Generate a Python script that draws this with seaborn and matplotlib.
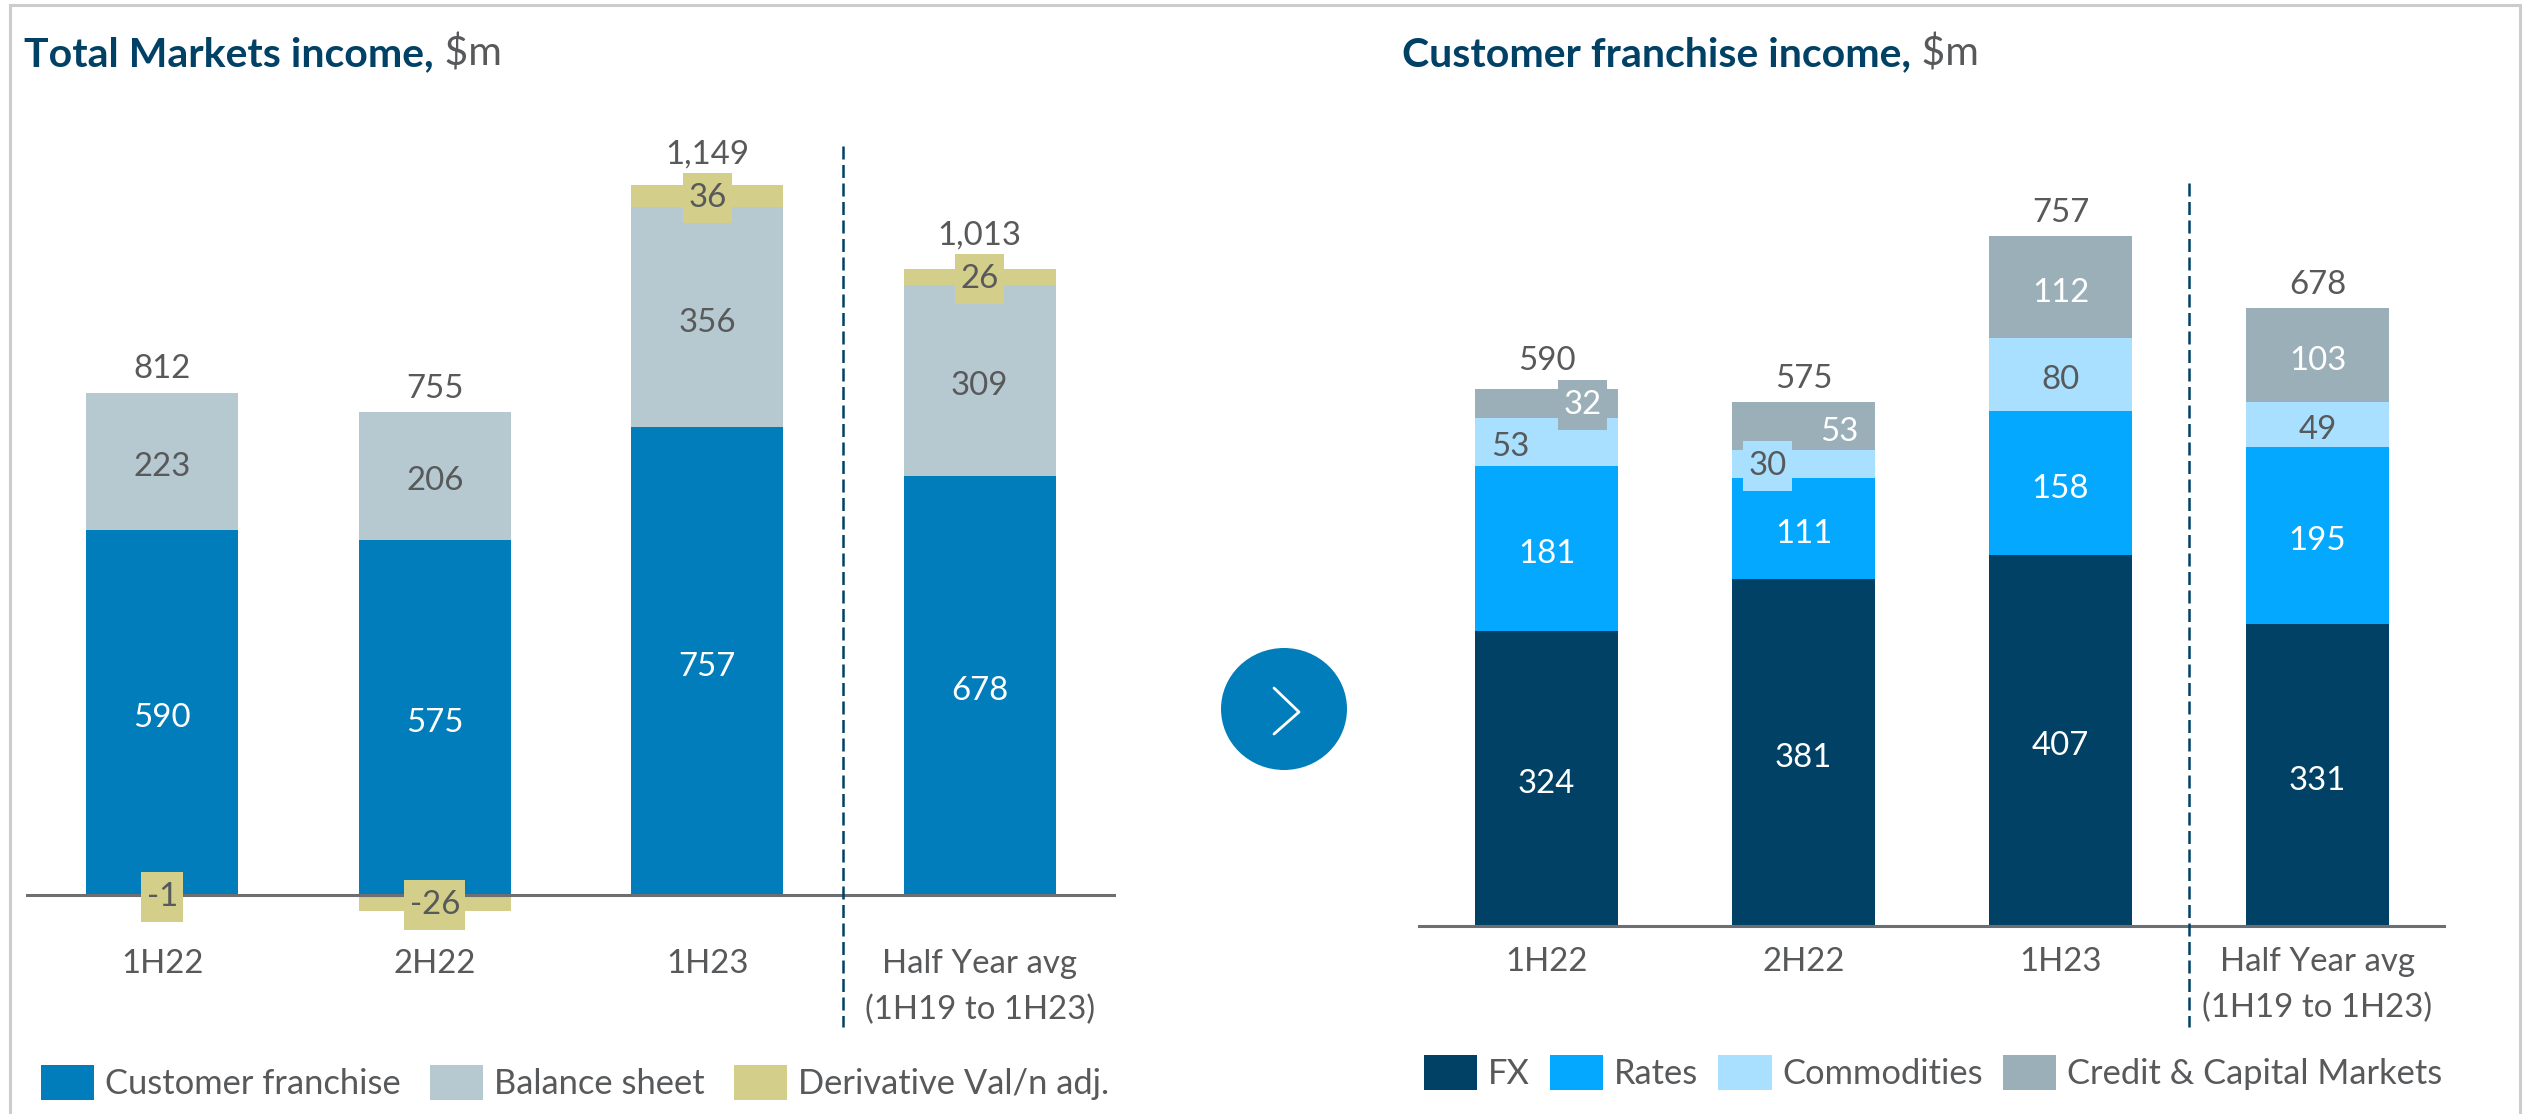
# Markets income charts: total income (left) and customer franchise split (right)
import numpy as np
import pandas as pd
import matplotlib
matplotlib.use("Agg")
import matplotlib.pyplot as plt
from matplotlib.patches import Ellipse
import seaborn as sns

sns.set_theme(style="white")
plt.rcParams["font.family"] = ["Lato", "DejaVu Sans"]

# ------------------------------
# DATA
# ------------------------------
periods = ["1H22", "2H22", "1H23", "Half Year avg\n(1H19 to 1H23)"]

customer_franchise = [590, 575, 757, 678]
balance_sheet = [223, 206, 356, 309]
derivative_adj = [-1, -26, 36, 26]
total_markets = [812, 755, 1149, 1013]

fx = [324, 381, 407, 331]
rates = [181, 111, 158, 195]
commodities = [53, 30, 80, 49]
credit_capital = [32, 53, 112, 103]
total_customer = [590, 575, 757, 678]

# ------------------------------
# STYLE
# ------------------------------
W, H = 2523, 1114
GREY = "#58595B"
NAVY = "#004165"
FONT = 33 * 0.72
LEGEND_FONT = 34.5 * 0.72
TITLE_FONT = 41 * 0.72

left_series = [
    ("Customer franchise", customer_franchise, "#007DBA", "white"),
    ("Balance sheet", balance_sheet, "#B7C9D0", GREY),
    ("Derivative Val/n adj.", derivative_adj, "#D3CE8A", GREY),
]
right_series = [
    ("FX", fx, "#004165", "white"),
    ("Rates", rates, "#05A8FF", "white"),
    ("Commodities", commodities, "#A9E0FF", GREY),
    ("Credit & Capital Markets", credit_capital, "#9BAFB9", "white"),
]

# labels pushed sideways so they do not collide (series name, bar index): shift
left_shift = {}
right_shift = {("Commodities", 0): -0.14, ("Credit & Capital Markets", 0): 0.14,
               ("Commodities", 1): -0.14, ("Credit & Capital Markets", 1): 0.14}


def px_axes(fig, x0, x1, y_top, y_base, y_bottom, px_per_unit):
    ax = fig.add_axes([x0 / W, 1 - y_bottom / H, (x1 - x0) / W, (y_bottom - y_top) / H])
    ax.set_ylim(-(y_bottom - y_base) / px_per_unit, (y_base - y_top) / px_per_unit)
    return ax


def stacked(ax, series, totals, shifts, total_gaps, bar_width):
    pos = np.zeros(len(periods))
    neg = np.zeros(len(periods))
    for name, values, color, text_color in series:
        values = np.array(values, dtype=float)
        bottoms = np.where(values >= 0, pos, neg)
        df = pd.DataFrame({"period": periods, "value": values})
        sns.barplot(data=df, x="period", y="value", bottom=bottoms, color=color,
                    saturation=1, width=bar_width, label=name, ax=ax, linewidth=0, zorder=2)
        for i, v in enumerate(values):
            # only the thin segments get a box, it pokes out of the bar
            thin = abs(v) <= 36
            box = None
            if thin:
                box = dict(boxstyle="square,pad=0.16", fc=color, ec="none", mutation_aspect=1.875)
            ax.annotate(f"{v:.0f}", (i + shifts.get((name, i), 0), bottoms[i] + v / 2),
                        xytext=(0, 1 if thin else -1.8), textcoords="offset points",
                        ha="center", va="center_baseline", color=text_color, fontsize=FONT, zorder=5,
                        bbox=box)
        pos = pos + np.clip(values, 0, None)
        neg = neg + np.clip(values, None, 0)
    for i, t in enumerate(totals):
        ax.annotate(f"{t:,}", (i, pos[i]), xytext=(0, total_gaps[i] * 0.72), textcoords="offset points",
                    ha="center", va="center_baseline", color=GREY, fontsize=FONT, zorder=5,
                    annotation_clip=False)
    ax.axhline(0, color="#6D6E71", lw=2.2, zorder=3)
    ax.set_xlim(-0.5, 3.5)
    ax.set_xlabel("")
    ax.set_ylabel("")
    ax.set_yticks([])
    ax.tick_params(axis="x", length=0, labelsize=FONT, labelcolor=GREY)
    for lab in ax.get_xticklabels():
        lab.set_linespacing(1.65)
    sns.despine(ax=ax, left=True, bottom=True)
    ax.patch.set_alpha(0)


# ------------------------------
# FIGURE
# ------------------------------
fig = plt.figure(figsize=(W / 100, H / 100), dpi=100, facecolor="white")

ax_l = px_axes(fig, 26, 1116, 100, 895, 930, 0.618)
stacked(ax_l, left_series, total_markets, left_shift, [26.5, 26.5, 33.5, 36.5], 0.556)
ax_l.tick_params(axis="x", pad=13.5)
ax_l.legend(loc="lower left", bbox_to_anchor=(15 / (1116 - 26), -0.205), ncol=3, frameon=False,
            fontsize=LEGEND_FONT, labelcolor=GREY, handlelength=1.54, handleheight=1.16,
            handletextpad=0.32, columnspacing=0.84, borderaxespad=0, borderpad=0)

ax_r = px_axes(fig, 1418, 2446, 100, 926, 930, 0.911)
stacked(ax_r, right_series, total_customer, right_shift, [30.5, 26.5, 26.5, 26.5], 0.553)
ax_r.tick_params(axis="x", pad=12)
ax_r.legend(loc="lower left", bbox_to_anchor=(6 / (2446 - 1418), -0.193), ncol=4, frameon=False,
            fontsize=LEGEND_FONT, labelcolor=GREY, handlelength=1.54, handleheight=1.16,
            handletextpad=0.32, columnspacing=0.58, borderaxespad=0, borderpad=0)

# overlay in image pixels for frame, dividers, arrow and titles
ov = fig.add_axes([0, 0, 1, 1], zorder=10)
ov.set_xlim(0, W)
ov.set_ylim(H, 0)
ov.axis("off")
ov.patch.set_alpha(0)

ov.plot([10, 10, 2520, 2520], [H, 5, 5, H], color="#CCCCCC", lw=2.2, solid_joinstyle="miter")
for x, y0 in [(842.5, 146), (2189, 183)]:
    ov.plot([x, x], [y0, 1027], color=NAVY, lw=1.8, dashes=(5.2, 2.2))

ov.add_patch(Ellipse((1284, 709), 126, 122, fc="#007DBA", ec="none"))
ov.plot([1274, 1299, 1274], [688, 712, 734], color="white", lw=2)

for x, main in [(24, "Total Markets income,"), (1402, "Customer franchise income,")]:
    t = ov.text(x, 66, main, color=NAVY, fontsize=TITLE_FONT, fontweight="bold", va="baseline")
    ov.annotate(" $m", xy=(1, 0), xycoords=t, color=GREY, fontsize=TITLE_FONT, va="bottom")

fig.savefig("out.png", dpi=100)
